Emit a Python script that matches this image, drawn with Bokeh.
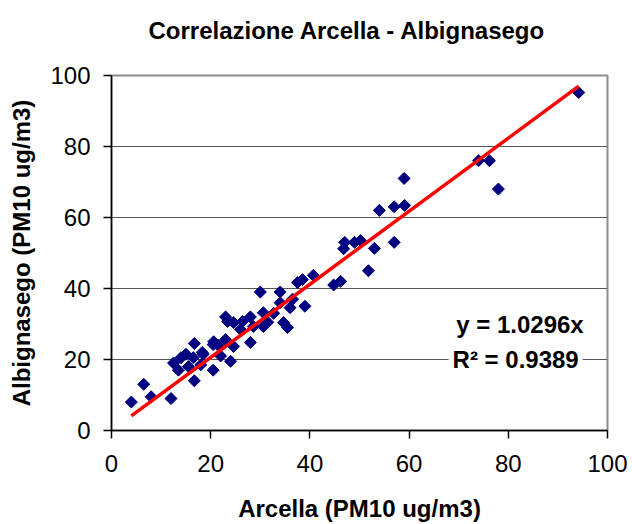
import math
from bokeh.plotting import figure
from bokeh.models import Range1d, Label, FixedTicker
from bokeh.embed import file_html
from bokeh.resources import INLINE

arcella = [4, 6.5, 8, 12, 12.5, 13.5, 14, 15, 15.5, 16.5, 16.7, 16.7, 18, 18.5,
           20.5, 20.5, 18.3, 22, 24, 20.6, 23, 24.6, 28, 23, 23.4, 24.6, 26.4,
           28, 28.6, 30.6, 30, 30.6, 32.7, 34, 34, 34.7, 35.5, 36, 36.5, 37.5,
           38.5, 39, 40.7, 44.8, 46.2, 46.8, 47, 49, 50.2, 51.8, 53, 54, 57,
           57, 59.1, 59, 74, 76.2, 78, 94.2, 26, 21.5, 31.5]
albignasego = [8, 13, 9.5, 9, 19, 17, 20.5, 21.5, 18, 20.5, 14, 24.5, 18.5, 21.5,
               17, 24.2, 22, 21, 19.5, 25, 25.6, 23.7, 24.8, 32, 30.7, 30.4, 30.7,
               32, 29.3, 29.3, 39, 33.2, 33, 39, 36, 30.4, 29, 34.6, 37, 41.7,
               42.5, 35, 43.7, 41, 42, 51.2, 53, 53, 53.5, 45, 51.3, 62, 53,
               63, 63.4, 71, 76, 76, 68, 95.2, 28.5, 24, 30.5]
slope = 1.0296
r2 = 0.9389
ticks = [0, 20, 40, 60, 80, 100]
title = "Correlazione Arcella - Albignasego"

FONT = "Liberation Sans"

p = figure(width=632, height=524, output_backend="svg", toolbar_location=None,
           x_range=Range1d(0, 100), y_range=Range1d(0, 100),
           min_border_left=111, min_border_right=25, min_border_top=75,
           min_border_bottom=93, title=title + "\n ")

p.title.text_font = FONT
p.title.text_font_size = "24px"
p.title.text_font_style = "bold"
p.title.text_color = "black"
p.title.align = "left"
p.title.offset = 37
p.title.vertical_align = "top"
p.title.standoff = 5

p.outline_line_color = "#8c8c8c"
p.outline_line_width = 2
p.xgrid.grid_line_color = None
p.ygrid.grid_line_color = "#555555"
p.ygrid.grid_line_width = 1

for ax in (p.xaxis[0], p.yaxis[0]):
    ax.ticker = FixedTicker(ticks=ticks)
    ax.axis_line_color = "black"
    ax.axis_line_width = 1.5
    ax.major_tick_line_color = "black"
    ax.major_tick_line_width = 1.5
    ax.major_tick_in = 0
    ax.major_tick_out = 8
    ax.minor_tick_line_color = None
    ax.major_label_text_font = FONT
    ax.major_label_text_font_size = "24px"
    ax.major_label_text_color = "black"
    ax.axis_label_text_font = FONT
    ax.axis_label_text_font_size = "24px"
    ax.axis_label_text_font_style = "bold"
    ax.axis_label_text_color = "black"

p.xaxis.axis_label = "Arcella (PM10 ug/m3)"
p.yaxis.axis_label = "Albignasego (PM10 ug/m3)"
p.xaxis.major_label_standoff = 16
p.yaxis.major_label_standoff = 13
p.xaxis.axis_label_standoff = 20
p.yaxis.axis_label_standoff = 12

p.scatter(arcella, albignasego, marker="square", angle=math.pi / 4, size=8.5,
          color="#000080")

xmin, xmax = min(arcella), max(arcella)
p.line([xmin, xmax], [slope * xmin, slope * xmax], line_color="red", line_width=3.5)

p.add_layout(Label(x=95.2, y=29.9, text=f"y = {slope}x", text_align="right",
                   text_baseline="alphabetic",
                   text_font=FONT, text_font_size="24px", text_font_style="bold",
                   text_color="black"))
p.add_layout(Label(x=95.0, y=20.0, text=f"R² = {r2}", text_align="right",
                   text_baseline="alphabetic", background_fill_color="white",
                   padding=4,
                   text_font=FONT, text_font_size="24px", text_font_style="bold",
                   text_color="black"))

open("out.html", "w").write(file_html(p, INLINE))
